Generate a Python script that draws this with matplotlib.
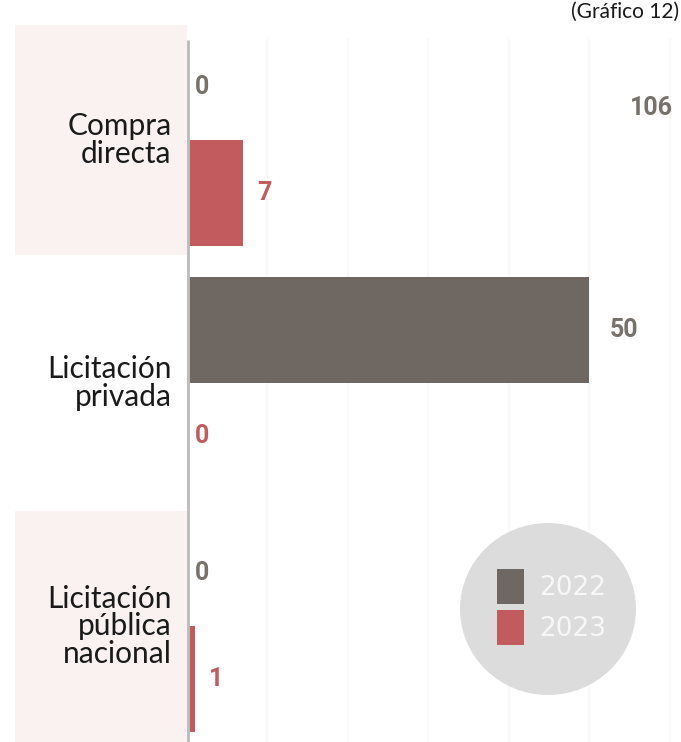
import matplotlib.pyplot as plt
from matplotlib.patches import Rectangle, Ellipse, Patch

categorias = ["Compra\ndirecta", "Licitación\nprivada", "Licitación\npública\nnacional"]
valores_2022 = [0, 50, 0]
valores_2023 = [7, 0, 1]
anios = ["2022", "2023"]
titulo = "(Gráfico 12)"
etiqueta_extra = "106"

color_2022 = "#6e6762"
color_2023 = "#c15b5e"
color_banda = "#f9f2f1"

fig = plt.figure(figsize=(6.81, 7.42), dpi=100)
ax = fig.add_axes([187 / 681, 0, 494 / 681, 1])
ax.set_xlim(0, 61.4)
ax.set_ylim(2.477, -0.576)
ax.axis("off")

alto = 0.435
ys = list(range(len(categorias)))

# bandas rosadas detras de las etiquetas (categorias 1 y 3)
for i in ys:
    if i % 2 == 0:
        ax.add_patch(Rectangle((-21.4, i - 0.475), 21.4, 0.95, facecolor=color_banda,
                               edgecolor="none", clip_on=False, zorder=0))

# lineas guia
for g in range(10, 70, 10):
    ax.plot([g, g], [-0.41, 2.6], color="#faf9f5", lw=1.5, zorder=0.5)

ax.barh([y - alto / 2 for y in ys], valores_2022, height=alto, color=color_2022, zorder=2)
ax.barh([y + alto / 2 for y in ys], valores_2023, height=alto, color=color_2023, zorder=2)

ax.plot([0, 0], [-0.41, 2.6], color="#bdbdbd", lw=3.5, zorder=3, solid_capstyle="butt")

for y, v in zip(ys, valores_2022):
    ax.annotate(str(v), (v, y - alto / 2), xytext=(8 if v == 0 else 20, 0),
                textcoords="offset pixels", ha="left", va="center",
                fontsize=18, fontweight="bold", color="#77716c", family="Roboto")
for y, v in zip(ys, valores_2023):
    ax.annotate(str(v), (v, y + alto / 2), xytext=(8 if v == 0 else 14, 0),
                textcoords="offset pixels", ha="left", va="center",
                fontsize=18, fontweight="bold", color=color_2023, family="Roboto")

for y, c in zip(ys, categorias):
    ax.text(-1.9, y, c, ha="right", va="center", fontsize=21.5, color="#1a1a1a",
            family="Lato", linespacing=0.98)

ax.text(55.1, -0.13, etiqueta_extra, ha="left", va="center", fontsize=18,
        fontweight="bold", color="#77716c", family="Roboto")

fig.text(679 / 681, 1 - 2 / 742, titulo, ha="right", va="top", fontsize=15,
         color="#1a1a1a", family="Lato")

# leyenda dentro de un circulo gris
fig.patches.append(Ellipse((548 / 681, 1 - 609 / 742), 176 / 681, 172 / 742,
                           transform=fig.transFigure, facecolor="#dcdcdc",
                           edgecolor="none", zorder=1))
manejadores = [Patch(facecolor=color_2022), Patch(facecolor=color_2023)]
leg = fig.legend(manejadores, anios, loc="center", bbox_to_anchor=(552 / 681, 1 - 607 / 742),
                 frameon=False, fontsize=19, handlelength=1.0, handleheight=1.65,
                 labelspacing=0.25, handletextpad=0.6, labelcolor="#f7f7f7")
leg.set_zorder(5)

fig.savefig("out.png", dpi=100)
